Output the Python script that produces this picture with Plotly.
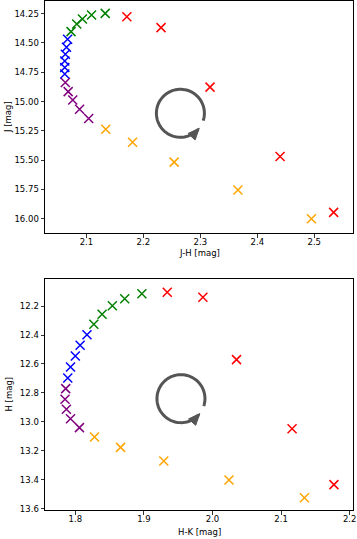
import numpy as np
import plotly.graph_objects as go
from plotly.subplots import make_subplots

# ---- data: top panel (J-H vs J) ----
jh_green = [2.133, 2.109, 2.093, 2.083, 2.073]
j_green = [14.247, 14.261, 14.295, 14.338, 14.403]
jh_blue = [2.067, 2.065, 2.063, 2.062, 2.062, 2.062]
j_blue = [14.468, 14.536, 14.596, 14.653, 14.710, 14.764]
jh_purple = [2.063, 2.068, 2.076, 2.088, 2.104]
j_purple = [14.838, 14.915, 14.986, 15.065, 15.145]
jh_orange = [2.134, 2.181, 2.254, 2.366, 2.495]
j_orange = [15.236, 15.347, 15.517, 15.755, 16.000]
jh_red = [2.171, 2.231, 2.317, 2.440, 2.534]
j_red = [14.276, 14.369, 14.877, 15.469, 15.946]

# ---- data: bottom panel (H-K vs H) ----
hk_green = [1.897, 1.872, 1.854, 1.839, 1.827]
h_green = [12.115, 12.150, 12.198, 12.257, 12.326]
hk_blue = [1.817, 1.807, 1.800, 1.793, 1.789]
h_blue = [12.398, 12.471, 12.545, 12.621, 12.697]
hk_purple = [1.786, 1.785, 1.787, 1.793, 1.806]
h_purple = [12.770, 12.843, 12.912, 12.977, 13.039]
hk_orange = [1.828, 1.866, 1.929, 2.024, 2.134]
h_orange = [13.103, 13.175, 13.269, 13.400, 13.522]
hk_red = [1.934, 1.986, 2.035, 2.116, 2.177]
h_red = [12.105, 12.140, 12.570, 13.046, 13.432]

# cycle-arrow centres (data coords)
top_arrow_center = (2.265, 15.10)
bot_arrow_center = (1.954, 12.839)

top_xticks = [2.1, 2.2, 2.3, 2.4, 2.5]
top_yticks = [14.25, 14.50, 14.75, 15.00, 15.25, 15.50, 15.75, 16.00]
bot_xticks = [1.8, 1.9, 2.0, 2.1, 2.2]
bot_yticks = [12.2, 12.4, 12.6, 12.8, 13.0, 13.2, 13.4, 13.6]

COLORS = {"green": "#008000", "blue": "#0000ff", "purple": "#800080",
          "orange": "#ffa500", "red": "#ff0000"}

fig = make_subplots(rows=2, cols=1)

top_sets = [(jh_green, j_green, "green"), (jh_blue, j_blue, "blue"),
            (jh_purple, j_purple, "purple"), (jh_orange, j_orange, "orange"),
            (jh_red, j_red, "red")]
bot_sets = [(hk_green, h_green, "green"), (hk_blue, h_blue, "blue"),
            (hk_purple, h_purple, "purple"), (hk_orange, h_orange, "orange"),
            (hk_red, h_red, "red")]

for row, sets in ((1, top_sets), (2, bot_sets)):
    for xs, ys, c in sets:
        fig.add_trace(go.Scatter(
            x=xs, y=ys, mode="markers",
            marker=dict(symbol="x-thin", size=9, color=COLORS[c],
                        line=dict(color=COLORS[c], width=1.5)),
            showlegend=False, hoverinfo="skip"), row=row, col=1)

# circular arrow (pixel-sized path anchored at a data point)
R = 24.0
th_start, th_end = np.deg2rad(-18), np.deg2rad(-42 + 360)
ths = np.linspace(th_start, th_end, 80)
arc = "M " + " L ".join(f"{R*np.cos(t):.2f},{R*np.sin(t):.2f}" for t in ths)
ex, ey = R*np.cos(th_end), R*np.sin(th_end)
tx, ty = -np.sin(th_end), np.cos(th_end)
nx, ny = -ty, tx
L, W = 10.0, 4.8
bx, by = ex - tx*L, ey - ty*L
tipx, tipy = ex + tx*1.5, ey + ty*1.5
head = (f"M {tipx:.2f},{tipy:.2f} L {bx+nx*W:.2f},{by+ny*W:.2f} "
        f"L {bx-nx*W:.2f},{by-ny*W:.2f} Z")
for (cx, cy), xr, yr in ((top_arrow_center, "x", "y"), (bot_arrow_center, "x2", "y2")):
    common = dict(xref=xr, yref=yr, xsizemode="pixel", ysizemode="pixel",
                  xanchor=cx, yanchor=cy, layer="above")
    fig.add_shape(type="path", path=arc, line=dict(color="#555555", width=3),
                  **common)
    fig.add_shape(type="path", path=head, fillcolor="#555555",
                  line=dict(color="#555555", width=1), **common)

FONT = dict(family="DejaVu Sans", size=8.5, color="black")
axis_style = dict(showline=True, linecolor="black", linewidth=1, mirror=True,
                  ticks="outside", ticklen=3.5, tickwidth=0.8, tickcolor="black",
                  showgrid=False, zeroline=False, tickfont=FONT,
                  automargin=False)

fig.update_xaxes(ticklabelstandoff=-3, **axis_style)
fig.update_yaxes(**axis_style)

H_PLOT = 509.0  # plot-area height in px (539 - t - b)


def py(p):
    """figure pixel row -> paper y"""
    return (510.0 - p) / H_PLOT


def px(p):
    """figure pixel column -> paper x"""
    return (p - 45.0) / 308.0


fig.update_layout(
    width=357, height=539,
    margin=dict(l=45, r=4, t=1, b=29),
    paper_bgcolor="white", plot_bgcolor="white",
    font=FONT,
    xaxis=dict(domain=[0, 1], range=[2.0273, 2.568], tickvals=top_xticks,
               ticktext=[f"{v:.1f}" for v in top_xticks]),
    yaxis=dict(domain=[py(233), 1.0], range=[16.122, 14.1416],
               tickvals=top_yticks, ticktext=[f"{v:.2f}" for v in top_yticks]),
    xaxis2=dict(domain=[0, 1], range=[1.7558, 2.2048], tickvals=bot_xticks,
                ticktext=[f"{v:.1f}" for v in bot_xticks]),
    yaxis2=dict(domain=[0.0, py(279)], range=[13.607, 12.0138],
                tickvals=bot_yticks, ticktext=[f"{v:.1f}" for v in bot_yticks]),
)

titles = [
    dict(text="J-H [mag]", x=0.5, y=py(253), textangle=0),
    dict(text="H-K [mag]", x=0.5, y=py(532), textangle=0),
    dict(text="J [mag]", x=px(8), y=py(117), textangle=-90),
    dict(text="H [mag]", x=px(8), y=py(394.5), textangle=-90),
]
for t in titles:
    fig.add_annotation(xref="paper", yref="paper", showarrow=False,
                       xanchor="center", yanchor="middle", font=FONT, **t)

fig.write_html(
    "out.html",
    config={"displayModeBar": False, "staticPlot": True},
    post_script="document.body.style.margin='0';document.body.style.padding='0';",
)
